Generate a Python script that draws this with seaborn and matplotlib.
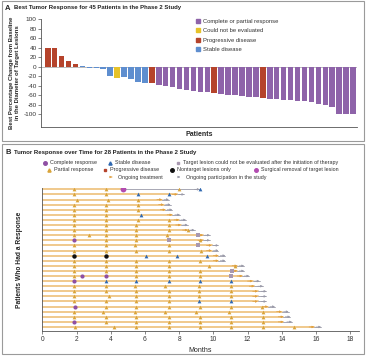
import numpy as np
import pandas as pd
import matplotlib
matplotlib.use("Agg")
import matplotlib.pyplot as plt
import seaborn as sns
from matplotlib.lines import Line2D
from matplotlib.patches import Rectangle, FancyArrowPatch

# ---------------- Panel A data ----------------
best_change = [39, 39, 22, 12, 6, 1, -3, -3, -5, -20, -24, -22, -27, -32, -35, -35,
               -38, -40, -43, -48, -50, -52, -54, -54, -55, -58, -59, -60, -61, -63,
               -63, -66, -68, -69, -70, -70, -72, -72, -74, -79, -80, -84, -100, -100, -100]
best_response = (["Progressive disease"] * 5 + ["Stable disease"] * 5 + ["Could not be evaluated"]
                 + ["Stable disease"] * 4 + ["Progressive disease"]
                 + ["Complete or partial response"] * 8 + ["Progressive disease"]
                 + ["Complete or partial response"] * 6 + ["Progressive disease"]
                 + ["Complete or partial response"] * 13)
resp_labels = ["Complete or partial response", "Could not be evaluated", "Progressive disease", "Stable disease"]
resp_colors = ["#8E63A9", "#E6C229", "#B5432B", "#5E8ECF"]
a_yticks = [100, 80, 60, 40, 20, 0, -20, -40, -60, -80, -100]

# ---------------- Panel B data ----------------
# per patient (top to bottom)
treat_end = [4.7, 7.9, 7.0, 7.1, 7.2, 7.6, 8.0, 8.1, 8.5, 9.4, 9.4, 9.9, 9.9, 10.3, 10.3,
             11.4, 11.4, 11.7, 12.3, 12.4, 12.6, 12.6, 12.6, 13.2, 14.0, 14.1, 14.1, 15.9]
follow_end = [9.2, 8.3, 7.4, 7.5, 7.6, 8.05, 8.4, 8.5, 8.9, 9.8, 9.8, 10.3, 10.3, 10.7, 10.7,
              11.8, 11.8, 12.1, 12.7, 12.9, 13.1, 13.1, 13.1, 13.6, 14.4, 14.5, 14.6, 16.3]
treat_ongoing = [False] + [True] * 27
assess_times = [
    [1.85, 3.7, 4.7, 8.0, 9.2],
    [1.85, 3.7, 5.6, 7.4],
    [2.0, 3.85, 5.6],
    [1.85, 3.7, 5.6],
    [1.85, 3.7, 5.6],
    [1.85, 3.7, 5.8],
    [1.85, 3.7, 5.6, 7.4],
    [1.85, 3.7, 5.5, 7.4],
    [1.85, 3.7, 5.5, 7.4, 8.5],
    [1.85, 2.75, 3.7, 5.5, 7.3, 9.1],
    [1.85, 3.7, 5.5, 7.4, 9.2],
    [1.85, 3.7, 5.4, 7.4, 9.1],
    [1.85, 3.7, 5.5, 7.4, 9.3],
    [1.85, 3.7, 6.05, 7.85, 9.65],
    [1.85, 3.7, 5.5, 7.4, 9.2],
    [1.85, 3.7, 5.5, 7.4, 9.75, 11.25],
    [1.85, 3.7, 5.5, 7.4, 9.2, 11.1],
    [1.85, 2.3, 3.7, 5.5, 7.4, 9.2, 11.05],
    [1.85, 3.7, 5.5, 7.4, 9.2, 11.05],
    [1.85, 3.7, 5.4, 7.2, 9.15, 11.05],
    [1.85, 3.7, 5.5, 7.4, 9.15, 11.05],
    [1.85, 3.9, 5.5, 7.4, 9.15, 11.05],
    [1.85, 3.7, 5.5, 7.4, 9.15, 11.05],
    [1.9, 3.7, 5.5, 7.4, 9.2, 11.05, 12.85],
    [1.85, 3.55, 5.4, 7.2, 9.0, 10.9, 12.9],
    [1.85, 3.7, 5.5, 7.4, 9.2, 11.05, 12.9],
    [1.85, 3.7, 5.5, 7.4, 9.2, 11.05, 12.9],
    [1.9, 4.2, 5.5, 7.4, 9.2, 11.05, 12.9, 14.7],
]
assess_codes = [
    "PPRPS", "PPSS", "PPP", "PPP", "PPP", "PPS", "PPPP", "PPPP", "PPPPP",
    "PPPPPU", "CPPUP", "PPPPU", "PPPPP", "NNSSS", "PPPPP", "PPPPPP", "PPPPPU",
    "PCCPPPU", "CSSSSS", "PPPPPP", "PPPPPP", "PPPPPP", "PPPPSS", "CPPPPPP",
    "PPPPPPP", "PPPPPPP", "CPPPPPP", "PPPPPPPP",
]
b_xticks = [0, 2, 4, 6, 8, 10, 12, 14, 16, 18]

code_style = {
    "C": dict(marker="o", color="#8E4FA3", ms=3.0),
    "P": dict(marker="^", color="#D9A43A", ms=2.7),
    "S": dict(marker="^", color="#2F68B0", ms=2.7),
    "D": dict(marker="s", color="#B5432B", ms=2.2),
    "U": dict(marker="s", color="#A898B0", ms=2.4),
    "N": dict(marker="o", color="#111111", ms=3.2),
    "R": dict(marker="o", color="#B24BB0", ms=4.2),
}
treat_color = "#F0C98C"
arrow_treat_color = "#E0A040"
follow_color = "#9A9AA8"

# ---------------- figure ----------------
sns.set_theme(style="white")
plt.rcParams["font.family"] = ["Liberation Sans", "DejaVu Sans"]
W, H = 366, 360
fig = plt.figure(figsize=(W / 100, H / 100), dpi=100)

def fx(px):
    return px / W

def fy(py):
    return 1 - py / H

# panel frames
for (y0, y1) in [(1, 141), (144, 354)]:
    fig.patches.append(Rectangle((fx(2), fy(y1)), fx(362), (y1 - y0) / H, transform=fig.transFigure,
                                 fill=False, edgecolor="#9A9A9A", linewidth=0.8))

# ---------------- Panel A ----------------
axA = fig.add_axes([fx(41), fy(127), fx(316), 108 / H])
patients = [f"P{i+1}" for i in range(len(best_change))]
dfA = pd.DataFrame({"patient": patients, "change": best_change, "response": best_response})
cmap = dict(zip(resp_labels, resp_colors))
sns.barplot(data=dfA, x="patient", y="change", hue="patient", order=patients,
            palette=[cmap[r] for r in best_response], width=0.8, ax=axA,
            legend=False, saturation=1, linewidth=0)
axA.set_xlim(-0.97, 44.57)
axA.set_ylim(-127, 100)
axA.set_yticks(a_yticks)
axA.set_yticklabels([str(t) for t in a_yticks], fontsize=4.6, color="#333333")
axA.set_xticks([])
axA.set_xlabel("Patients", fontsize=5.0, fontweight="bold", labelpad=3)
axA.set_ylabel("Best Percentage Change from Baseline\nin the Diameter of Target Lesions",
               fontsize=4.3, fontweight="bold", labelpad=3, linespacing=1.05)
axA.axhline(0, color="#888888", lw=0.4, zorder=0)
for s in ["top", "right"]:
    axA.spines[s].set_visible(False)
for s in ["left", "bottom"]:
    axA.spines[s].set_color("#555555")
    axA.spines[s].set_linewidth(0.6)
axA.tick_params(axis="y", length=2, width=0.5, pad=1, left=True, color="#555555")
handles = [Line2D([], [], marker="s", ls="none", color=c, ms=3) for c in resp_colors]
leg = axA.legend(handles, resp_labels, loc="upper left", bbox_to_anchor=((193 - 41) / 316, 1.03),
                 frameon=False, fontsize=4.2, handlelength=0.6, handletextpad=0.6,
                 labelspacing=0.75, borderpad=0)
for t in leg.get_texts():
    t.set_color("#333333")

fig.text(fx(5), fy(8), "A", fontsize=5.5, fontweight="bold", va="center", ha="left")
fig.text(fx(14), fy(8), "Best Tumor Response for 45 Patients in the Phase 2 Study",
         fontsize=4.3, fontweight="bold", va="center", ha="left", color="#222222")

# ---------------- Panel B ----------------
axB = fig.add_axes([fx(42.3), fy(330.7), fx(316.4), 142.4 / H])
n = len(treat_end)
rows_line = []
for i in range(n):
    yv = n - 1 - i
    rows_line.append(pd.DataFrame({"t": [0, treat_end[i]], "y": [yv, yv], "kind": "treat", "row": i}))
    rows_line.append(pd.DataFrame({"t": [treat_end[i], follow_end[i]], "y": [yv, yv], "kind": "follow", "row": i}))
dfL = pd.concat(rows_line, ignore_index=True)
sns.lineplot(data=dfL[dfL.kind == "treat"], x="t", y="y", units="row", estimator=None,
             color=treat_color, lw=1.4, ax=axB, sort=False)
sns.lineplot(data=dfL[dfL.kind == "follow"], x="t", y="y", units="row", estimator=None,
             color=follow_color, lw=0.6, ax=axB, sort=False)
for i in range(n):
    yv = n - 1 - i
    if treat_ongoing[i]:
        axB.annotate("", xy=(treat_end[i], yv), xytext=(treat_end[i] - 0.3, yv),
                     arrowprops=dict(arrowstyle="-|>", color=arrow_treat_color, lw=0.5,
                                     mutation_scale=3, shrinkA=0, shrinkB=0))
    axB.annotate("", xy=(follow_end[i], yv), xytext=(follow_end[i] - 0.3, yv),
                 arrowprops=dict(arrowstyle="-|>", color=follow_color, lw=0.5,
                                 mutation_scale=3, shrinkA=0, shrinkB=0))

pts = []
for i in range(n):
    for t, c in zip(assess_times[i], assess_codes[i]):
        pts.append((t, n - 1 - i, c))
dfP = pd.DataFrame(pts, columns=["t", "y", "code"])
for code, st in code_style.items():
    sub = dfP[dfP.code == code]
    if len(sub):
        sns.scatterplot(data=sub, x="t", y="y", marker=st["marker"], color=st["color"],
                        s=st["ms"] ** 2, linewidth=0, ax=axB, zorder=5)

axB.set_xlim(0, 18.5)
axB.set_ylim(-0.73, n - 0.8)
axB.set_xticks(b_xticks)
axB.set_xticklabels([str(t) for t in b_xticks], fontsize=4.8, color="#333333")
axB.set_yticks([])
axB.set_xlabel("Months", fontsize=5.0, labelpad=3)
axB.set_ylabel("Patients Who Had a Response", fontsize=4.8, fontweight="bold", labelpad=14)
for s in ["top", "right"]:
    axB.spines[s].set_visible(False)
for s in ["left", "bottom"]:
    axB.spines[s].set_color("#555555")
    axB.spines[s].set_linewidth(0.6)
axB.tick_params(axis="x", length=2, width=0.5, pad=1.5, bottom=True, color="#555555")

fig.text(fx(5), fy(152), "B", fontsize=5.5, fontweight="bold", va="center", ha="left")
fig.text(fx(14), fy(152), "Tumor Response over Time for 28 Patients in the Phase 2 Study",
         fontsize=4.3, fontweight="bold", va="center", ha="left", color="#222222")

# legend for panel B (manual layout)
legB = [
    (45, 163, "C", "Complete response"),
    (110, 163, "S", "Stable disease"),
    (178, 163, "U", "Target lesion could not be evaluated after the initiation of therapy"),
    (49, 170, "P", "Partial response"),
    (105, 170, "D", "Progressive disease"),
    (172, 170, "N", "Nontarget lesions only"),
    (256, 170, "R", "Surgical removal of target lesion"),
]
for (px, py, code, lab) in legB:
    st = code_style[code]
    fig.add_artist(Line2D([fx(px)], [fy(py)], marker=st["marker"], color=st["color"],
                          ms=min(st["ms"], 3.0) * 0.85, ls="none", transform=fig.transFigure))
    fig.text(fx(px + 5), fy(py), lab, fontsize=3.9, va="center", ha="left", color="#333333")
for (px0, px1, py, col, lab) in [(109, 115, 177, arrow_treat_color, "Ongoing treatment"),
                                 (176, 183, 177, follow_color, "Ongoing participation in the study")]:
    fig.add_artist(FancyArrowPatch((fx(px0), fy(py)), (fx(px1), fy(py)),
                   transform=fig.transFigure, arrowstyle="-|>", mutation_scale=3,
                   color=col, lw=0.5))
    fig.text(fx(px1 + 3), fy(py), lab, fontsize=3.9, va="center", ha="left", color="#333333")

fig.savefig("out.png", dpi=100)
